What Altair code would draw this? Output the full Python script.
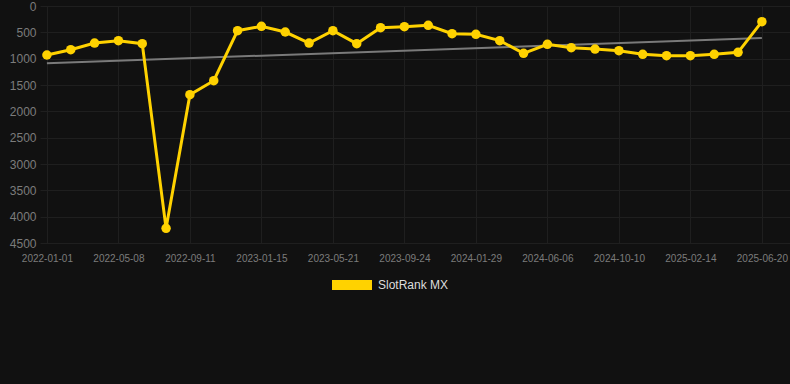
import altair as alt
import pandas as pd

# ---- data ----
dates = [
    "2022-01-01", "2022-02-12", "2022-03-26", "2022-05-08", "2022-06-19", "2022-07-31",
    "2022-09-11", "2022-10-23", "2022-12-04", "2023-01-15", "2023-02-26", "2023-04-09",
    "2023-05-21", "2023-07-02", "2023-08-13", "2023-09-24", "2023-11-05", "2023-12-17",
    "2024-01-29", "2024-03-11", "2024-04-22", "2024-06-06", "2024-07-18", "2024-08-29",
    "2024-10-10", "2024-11-21", "2025-01-02", "2025-02-14", "2025-03-28", "2025-05-09",
    "2025-06-20",
]
ranks = [
    930, 830, 703, 658, 715, 4222, 1684, 1418, 469, 386, 494, 703, 469, 715, 412,
    393, 367, 526, 538, 658, 899, 728, 791, 817, 848, 918, 943, 943, 918, 880, 298,
]
series_name = "SlotRank MX"
y_ticks = [0, 500, 1000, 1500, 2000, 2500, 3000, 3500, 4000, 4500]
label_every = 3

YELLOW = "#FFD200"
TREND = "#7a7a7a"
FONT = "Liberation Sans"

df = pd.DataFrame({
    "idx": list(range(len(dates))),
    "date": dates,
    "rank": ranks,
    "series": [series_name] * len(dates),
})

label_arr = "[" + ",".join(f"'{d}'" for d in dates) + "]"

x = alt.X(
    "idx:Q",
    scale=alt.Scale(domain=[-0.29, 31.18], nice=False, zero=False),
    axis=alt.Axis(
        values=list(range(0, len(dates), label_every)),
        labelExpr=f"{label_arr}[datum.value]",
        title=None,
        domain=False,
        ticks=False,
        labelPadding=10,
        labelFontSize=10,
        labelAngle=0,
    ),
)
y = alt.Y(
    "rank:Q",
    scale=alt.Scale(domain=[0, 4500], reverse=True, nice=False, zero=False),
    axis=alt.Axis(
        values=y_ticks,
        format="d",
        title=None,
        domain=False,
        ticks=False,
        labelPadding=4,
        labelFontSize=12,
    ),
)

base = alt.Chart(df)

trend = base.transform_regression("idx", "rank").mark_line(
    color=TREND, strokeWidth=2
).encode(x=x, y=y)

line = base.mark_line(color=YELLOW, strokeWidth=3, strokeJoin="miter").encode(x=x, y=y)

pts = base.mark_point(filled=True, size=90, opacity=1).encode(
    x=x,
    y=y,
    color=alt.Color(
        "series:N",
        scale=alt.Scale(domain=[series_name], range=[YELLOW]),
        legend=alt.Legend(
            title=None,
            orient="none",
            legendX=292,
            legendY=259,
            symbolType="M-1,-0.25L1,-0.25L1,0.25L-1,0.25Z",
            symbolSize=1600,
            symbolStrokeWidth=0,
            symbolOpacity=1,
            labelColor="#dddddd",
            labelFontSize=12,
            labelFont=FONT,
            labelOffset=6,
        ),
    ),
)

chart = (
    alt.layer(trend, line, pts)
    .properties(
        width=750,
        height=237,
        background="#111111",
        padding={"left": 40, "top": 6, "right": 0, "bottom": 141},
        autosize=alt.AutoSizeParams(type="none"),
    )
    .configure_view(stroke=None)
    .configure_axis(
        gridColor="#1f1f1f",
        gridWidth=1,
        labelColor="#7c7c7c",
        labelFont=FONT,
    )
)

chart.save("out.html", embed_options={"renderer": "svg", "actions": False})
